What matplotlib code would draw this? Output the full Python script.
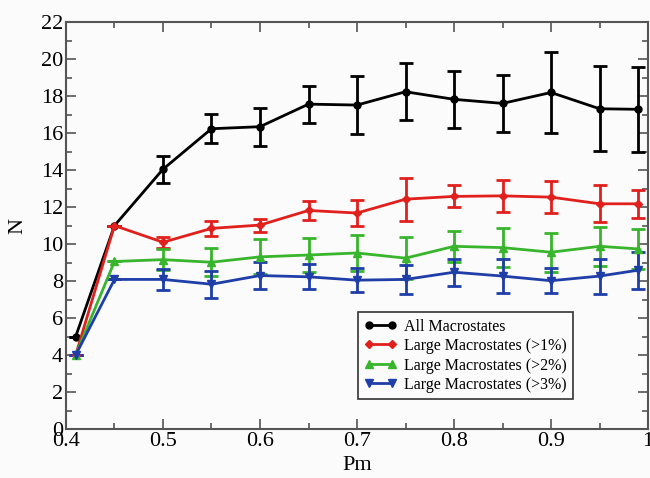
import matplotlib
matplotlib.use("Agg")
import matplotlib.pyplot as plt
from matplotlib.ticker import MultipleLocator
from matplotlib.lines import Line2D

pm = [0.41, 0.45, 0.50, 0.55, 0.60, 0.65, 0.70, 0.75, 0.80, 0.85, 0.90, 0.95, 0.99]

all_vals = [5.0, 11.0, 14.05, 16.24, 16.35, 17.57, 17.52, 18.24, 17.83, 17.61, 18.2, 17.32, 17.29]
all_err = [0, 0, 0.74, 0.77, 1.02, 1.0, 1.57, 1.53, 1.53, 1.55, 2.17, 2.3, 2.3]

r1_vals = [4.0, 11.0, 10.1, 10.85, 11.03, 11.82, 11.68, 12.43, 12.58, 12.61, 12.54, 12.18, 12.18]
r1_err = [0, 0, 0.3, 0.4, 0.35, 0.5, 0.7, 1.17, 0.6, 0.88, 0.88, 1.0, 0.75]

r2_vals = [4.0, 9.06, 9.16, 9.02, 9.31, 9.41, 9.52, 9.24, 9.88, 9.81, 9.56, 9.88, 9.74]
r2_err = [0, 0, 0.55, 0.75, 0.95, 0.9, 0.95, 1.15, 0.85, 1.05, 1.05, 1.05, 1.1]

r3_vals = [4.0, 8.09, 8.09, 7.83, 8.30, 8.23, 8.05, 8.09, 8.48, 8.27, 8.02, 8.27, 8.59]
r3_err = [0, 0, 0.55, 0.72, 0.72, 0.68, 0.66, 0.8, 0.73, 0.93, 0.68, 0.95, 1.0]

labels = ["All Macrostates", "Large Macrostates (>1%)",
          "Large Macrostates (>2%)", "Large Macrostates (>3%)"]
x_ticks = [0.4, 0.5, 0.6, 0.7, 0.8, 0.9, 1.0]
x_tick_labels = ["0.4", "0.5", "0.6", "0.7", "0.8", "0.9", "1"]
y_ticks = list(range(0, 23, 2))

plt.rcParams['font.family'] = ['Liberation Serif', 'DejaVu Serif']

fig = plt.figure(figsize=(6.5, 4.78), dpi=100)
fig.patch.set_facecolor('#fbfbfb')
ax = fig.add_axes([0.1015, 0.1025, 0.8955, 0.851])
ax.set_facecolor('#fbfbfb')

series = [
    (all_vals, all_err, '#000000', 'o', 5),
    (r1_vals, r1_err, '#e0201c', 'D', 4.5),
    (r2_vals, r2_err, '#38b52c', '^', 5.5),
    (r3_vals, r3_err, '#1f3ea8', 'v', 5.5),
]
handles = []
for (vals, errs, col, mk, ms), lab in zip(series, labels):
    ax.errorbar(pm, vals, yerr=errs, color=col, marker=mk, markersize=ms,
                linewidth=2, elinewidth=2, capsize=5, capthick=2)
    handles.append(Line2D([], [], color=col, marker=mk, markersize=ms,
                          linewidth=2, label=lab))

ax.set_xlim(0.4, 1.0)
ax.set_ylim(0, 22)
ax.set_xticks(x_ticks)
ax.set_xticklabels(x_tick_labels)
ax.set_yticks(y_ticks)
ax.xaxis.set_minor_locator(MultipleLocator(0.05))
ax.yaxis.set_minor_locator(MultipleLocator(1))
ax.tick_params(which='both', direction='in', top=True, right=True,
               labelsize=16, pad=2, width=1.2, color='#555555')
ax.tick_params(which='major', length=7)
ax.tick_params(which='minor', length=4)
for s in ax.spines.values():
    s.set_linewidth(1.5)
    s.set_color('#555555')

ax.set_xlabel('Pm', fontsize=16, labelpad=4)
ax.set_ylabel('N', fontsize=16, labelpad=10)

leg = ax.legend(handles=handles, loc='lower left', bbox_to_anchor=(0.488, 0.053),
                fontsize=11.5, numpoints=2,
                frameon=True, fancybox=False, handlelength=2.0,
                borderpad=0.4, labelspacing=0.22, handletextpad=0.5)
leg.get_frame().set_edgecolor('#333333')
leg.get_frame().set_linewidth(1.2)
leg.get_frame().set_facecolor('#fbfbfb')
leg.get_frame().set_alpha(1)

fig.savefig('out.png', dpi=100, facecolor=fig.get_facecolor())
